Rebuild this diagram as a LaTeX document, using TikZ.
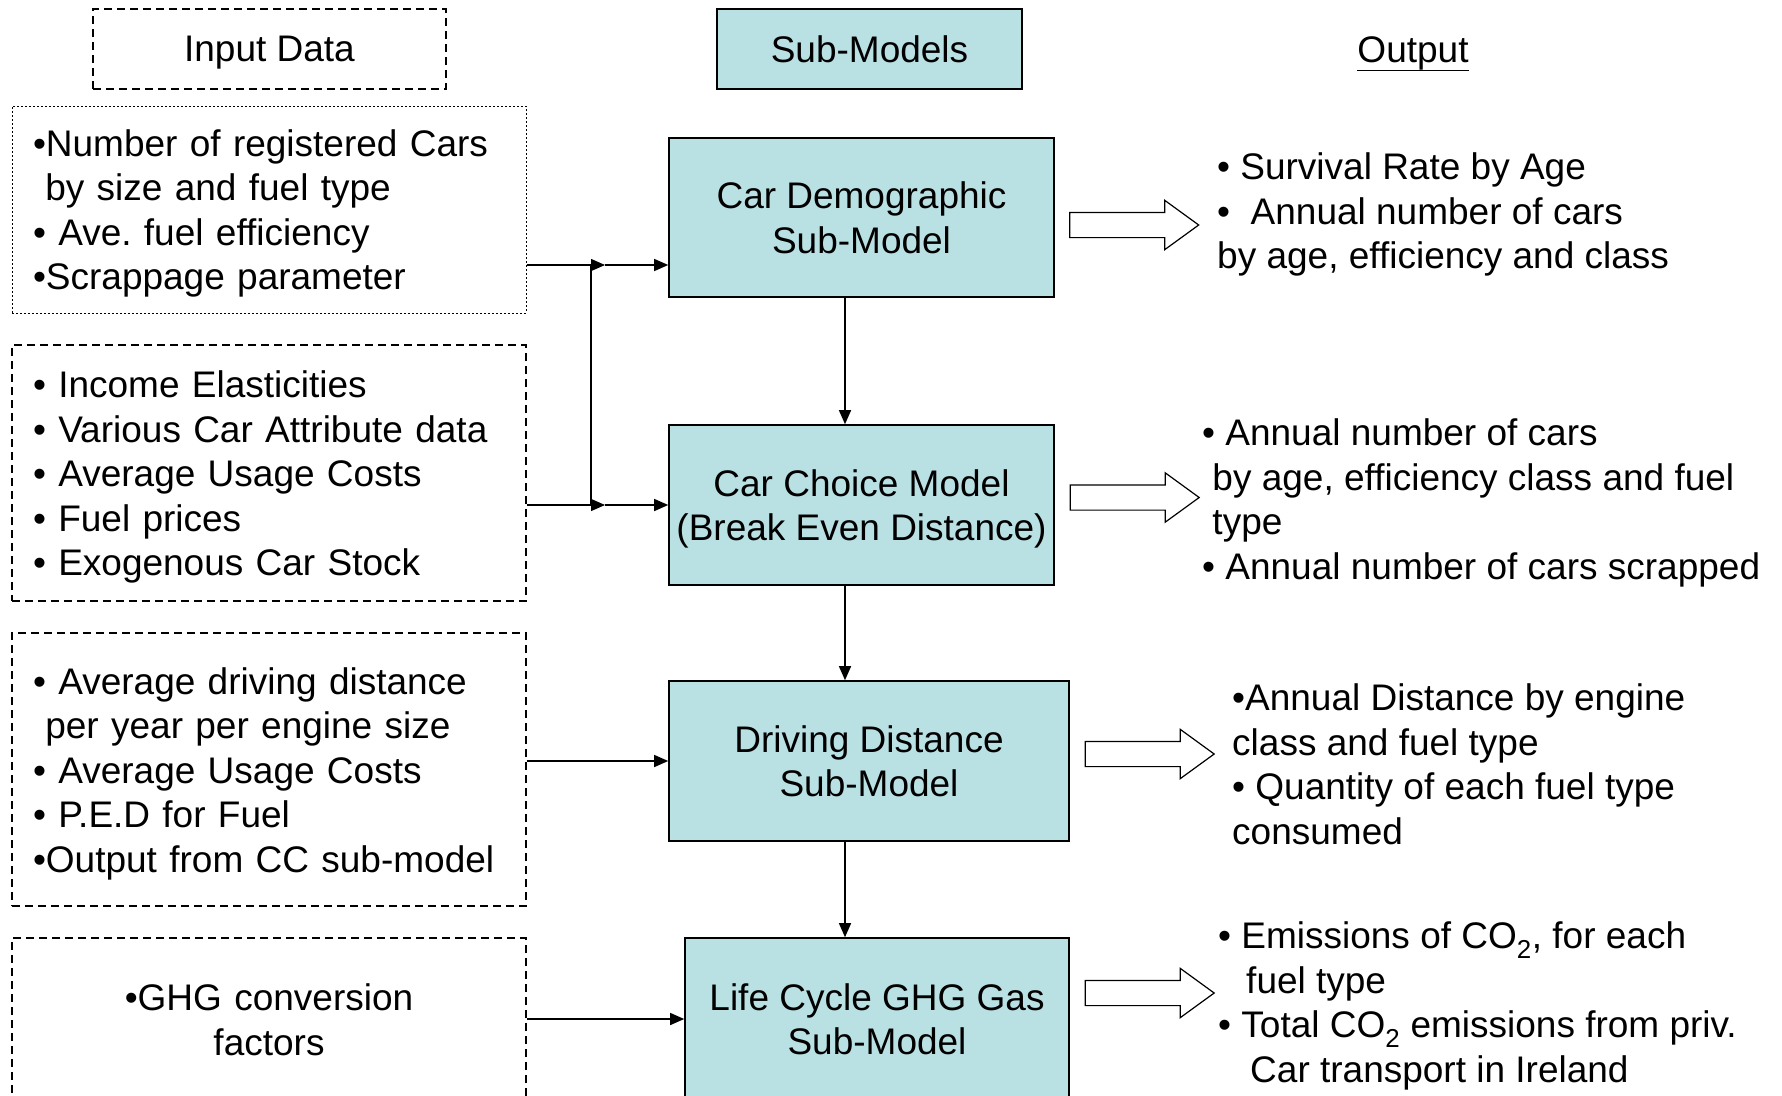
\documentclass[tikz,border=0pt]{standalone}
\usepackage{fontspec}
\setmainfont{Liberation Sans}
\usetikzlibrary{arrows.meta, positioning, shapes.arrows}
\definecolor{subfill}{RGB}{185,224,227}
\frenchspacing
\newcommand{\tallline}{\rule{0pt}{35pt}}

\begin{document}
\begin{tikzpicture}[x=1pt, y=-1pt,
    font=\fontsize{37pt}{44.5pt}\selectfont,
    arr/.style={-{Triangle[length=14pt,width=12pt]}, line width=1.3pt},
    submodel/.style={draw, line width=1.6pt, fill=subfill, align=center, inner sep=0pt, text depth=0pt},
    inbox/.style={draw, line width=1.3pt, dash pattern=on 8pt off 5pt, text width=472pt, inner xsep=21pt, inner ysep=0pt, align=left},
    outtext/.style={anchor=west, inner sep=0pt, align=left},
    fatarrow/.style={draw, line width=1.2pt, shape=single arrow, minimum height=129pt, inner sep=12pt,
        single arrow head extend=12pt, single arrow tip angle=72}]
    \clip (0,0) rectangle (1782,1095);

    % --- headings ---
    \node[draw, line width=1.3pt, dash pattern=on 8pt off 5pt, minimum width=353pt, minimum height=80pt, text depth=0pt] (indata) at (269.5,49) {Input Data};
    \node[submodel, minimum width=305pt, minimum height=80pt] (submod) at (869.5,49) {Sub-Models};
    \node[inner sep=0pt] (outlbl) at (1413,53.5) {Output};
    \draw[line width=1.5pt] (outlbl.south west) -- (outlbl.south east);

    % --- input data boxes ---
    \node[inbox, dash pattern=on 2pt off 2pt, line width=1pt, minimum height=207pt] (in1) at (269,209.5)
        {\tallline•Number of registered Cars\\\mbox{} by size and fuel type\\• Ave. fuel efficiency\\•Scrappage parameter};
    \node[inbox, minimum height=256pt] (in2) at (269,473)
        {\tallline• Income Elasticities\\• Various Car Attribute data\\• Average Usage Costs\\• Fuel prices\\• Exogenous Car Stock};
    \node[inbox, minimum height=273pt] (in3) at (269,769.5)
        {\tallline• Average driving distance\\\mbox{} per year per engine size\\• Average Usage Costs\\• P.E.D for Fuel\\•Output from CC sub-model};
    \node[inbox, align=center, minimum height=164pt] (in4) at (269,1020)
        {•GHG conversion\\factors};

    % --- sub-models ---
    \node[submodel, minimum width=385pt, minimum height=159pt] (dem) at (861.5,217.5) {Car Demographic\\Sub-Model};
    \node[submodel, minimum width=385pt, minimum height=160pt] (choice) at (861.5,505) {Car Choice Model\\(Break Even Distance)};
    \node[submodel, minimum width=400pt, minimum height=160pt] (drive) at (869,761) {Driving Distance\\Sub-Model};
    \node[submodel, minimum width=384pt, minimum height=162pt] (life) at (877,1019) {Life Cycle GHG Gas\\Sub-Model};

    % --- block arrows ---
    \node[fatarrow] (fa1) at (1125.5,225) {};
    \node[fatarrow] (fa2) at (1126,497.5) {};
    \node[fatarrow] (fa3) at (1141,754) {};
    \node[fatarrow] (fa4) at (1141,993) {};

    % --- outputs ---
    \node[outtext] (out1) at (1217,214.5)
        {• Survival Rate by Age\\•\ \ Annual number of cars\\by age, efficiency and class};
    \node[outtext] (out2) at (1202,503)
        {• Annual number of cars\\\mbox{} by age, efficiency class and fuel\\\mbox{} type\\• Annual number of cars scrapped};
    \node[outtext] (out3) at (1232,764.5)
        {•Annual Distance by engine\\class and fuel type\\• Quantity of each fuel type\\consumed};
    \node[outtext] (out4) at (1218,1006)
        {• Emissions of CO\textsubscript{2}, for each\\\hspace*{28pt}fuel type\\• Total CO\textsubscript{2} emissions from priv.\\\hspace*{32pt}Car transport in Ireland};

    % --- connectors ---
    \coordinate (j1) at (591,265);
    \coordinate (j1a) at (605,265);
    \coordinate (j2) at (591,505);
    \coordinate (j2a) at (605,505);
    \coordinate (vx) at (845,0);
    \draw[arr] (in1.east |- j1) -- (j1a);
    \draw[arr] (j1a) -- (j1a -| dem.west);
    \draw[line width=1.3pt] (j1) -- (j2);
    \draw[arr] (in2.east |- j2) -- (j2a);
    \draw[arr] (j2a) -- (choice.west);
    \draw[arr] (in3.east |- drive.west) -- (drive.west);
    \draw[arr] (in4.east |- life.west) -- (life.west);
    \draw[arr] (dem.south -| vx) -- (choice.north -| vx);
    \draw[arr] (choice.south -| vx) -- (drive.north -| vx);
    \draw[arr] (drive.south -| vx) -- (life.north -| vx);
\end{tikzpicture}
\end{document}
